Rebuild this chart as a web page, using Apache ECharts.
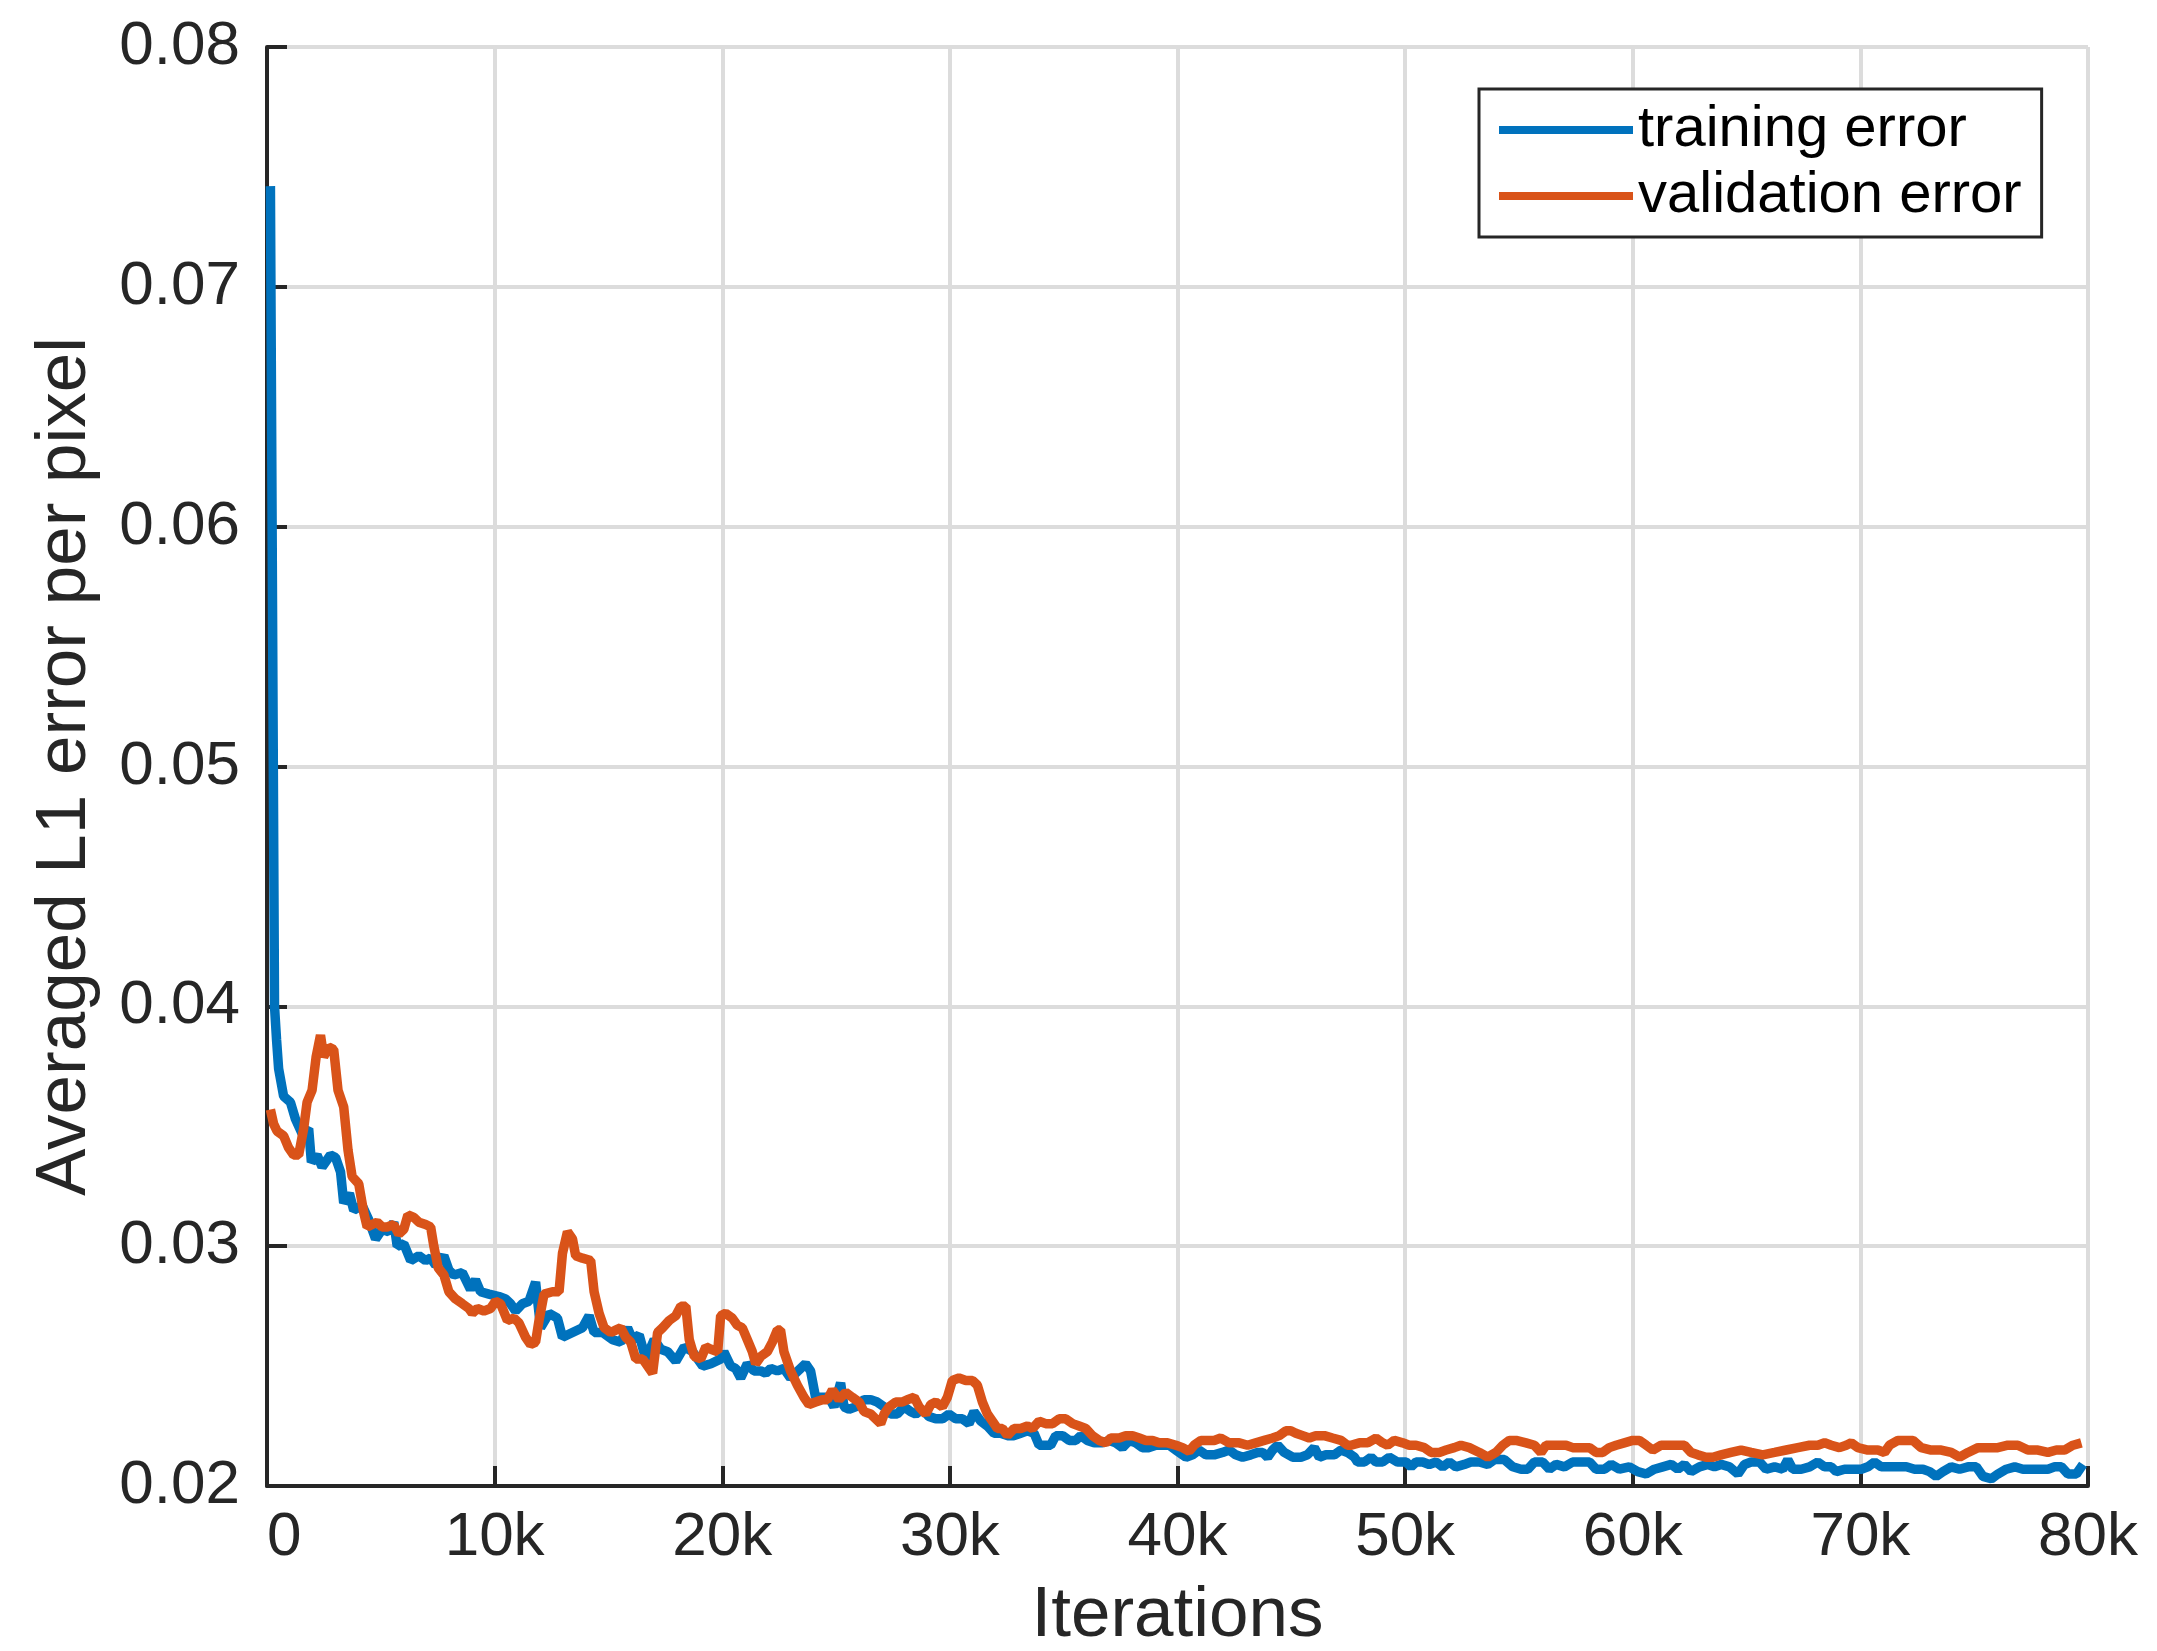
<!DOCTYPE html>
<html>
<head>
<meta charset="utf-8">
<title>Averaged L1 error per pixel</title>
<script src="https://cdn.jsdelivr.net/npm/echarts@6.0.0/dist/echarts.min.js"></script>
<style>
    html, body {
        margin: 0;
        padding: 0;
        background: #fff;
    }

    #chart {
        width: 2157px;
        height: 1651px;
    }
</style>
</head>
<body>
<div id="chart"></div>
<script>
    // tick labels
    const xTickLabels = ['0', '10k', '20k', '30k', '40k', '50k', '60k', '70k', '80k']
    const yTickLabels = ['0.02', '0.03', '0.04', '0.05', '0.06', '0.07', '0.08']

    // [iteration, error]
    const trainingError = [
        [150, 0.0742], [330, 0.0400], [420, 0.0386], [510, 0.0374], [730, 0.03625], [1030, 0.0360],
        [1250, 0.0353], [1540, 0.0347], [1830, 0.0349], [1950, 0.0335], [2200, 0.0338], [2420, 0.0333],
        [2790, 0.0338], [3010, 0.0337], [3230, 0.0331], [3370, 0.0318], [3620, 0.0322], [3810, 0.0315],
        [4180, 0.0317], [4470, 0.0311], [4770, 0.0303], [5060, 0.0307], [5350, 0.0306], [5570, 0.0310],
        [5720, 0.0300], [6010, 0.0301], [6310, 0.0294], [6670, 0.0296], [6970, 0.0294], [7190, 0.0295],
        [7410, 0.0292], [7770, 0.0296], [7990, 0.0290], [8210, 0.0288], [8580, 0.0289], [8940, 0.0282],
        [9160, 0.0286], [9380, 0.0281], [9750, 0.0280], [10190, 0.0279], [10480, 0.0278], [10700, 0.0276],
        [10920, 0.0273], [11220, 0.0276], [11510, 0.0277], [11800, 0.0285], [12020, 0.0266], [12390, 0.0272],
        [12760, 0.0270], [12980, 0.0262], [13420, 0.0264], [13860, 0.0266], [14150, 0.0271], [14370, 0.0264],
        [14740, 0.0264], [15180, 0.0261], [15540, 0.0260], [15840, 0.0266], [16060, 0.0261], [16350, 0.0263],
        [16640, 0.0253], [17010, 0.0261], [17300, 0.0257], [17600, 0.0256], [17960, 0.0252], [18330, 0.0258],
        [18700, 0.0256], [19140, 0.0250], [19500, 0.0251], [19940, 0.0253],
        [20070, 0.0256], [20370, 0.0250], [20590, 0.0249], [20810, 0.0245], [21100, 0.0251], [21390, 0.0248],
        [21690, 0.0248], [21910, 0.0247], [22130, 0.0249], [22420, 0.0248], [22710, 0.0249], [23000, 0.0245],
        [23220, 0.0247], [23440, 0.0249], [23660, 0.0251], [23880, 0.0248], [24100, 0.0237], [24400, 0.0237],
        [24690, 0.0237], [24910, 0.0233], [25200, 0.0243], [25350, 0.0233], [25570, 0.0232], [25860, 0.0233],
        [26230, 0.0236], [26520, 0.0236], [26810, 0.0235], [27110, 0.0233], [27400, 0.0230], [27690, 0.0230],
        [27990, 0.0233], [28280, 0.0231], [28500, 0.0230], [28790, 0.0232], [29080, 0.0229], [29380, 0.0228],
        [29670, 0.0228], [29960, 0.0230], [30260, 0.0228], [30550, 0.0228], [30840, 0.0226], [31060, 0.0231],
        [31360, 0.0227], [31650, 0.0225], [31940, 0.0222], [32230, 0.0222], [32530, 0.0221], [32820, 0.0221],
        [33110, 0.0222], [33410, 0.0223], [33700, 0.0222], [33920, 0.0217], [34210, 0.0217], [34430, 0.0217],
        [34650, 0.0221], [34950, 0.0221], [35240, 0.0219], [35530, 0.0219], [35750, 0.0221], [36040, 0.0219],
        [36340, 0.0218], [36700, 0.0218], [37000, 0.0219], [37290, 0.0218], [37580, 0.0216], [37880, 0.0219],
        [38170, 0.0218], [38460, 0.0216], [38750, 0.0216], [39050, 0.0217], [39340, 0.0217], [39630, 0.0217],
        [39930, 0.0215],
        [40370, 0.0212], [40660, 0.0213], [40950, 0.0215], [41250, 0.0213], [41610, 0.0213], [41980, 0.0214],
        [42270, 0.0215], [42560, 0.0213], [42860, 0.0212], [43220, 0.0213], [43520, 0.0214], [43740, 0.0214],
        [43960, 0.0212], [44180, 0.0215], [44400, 0.0217], [44690, 0.0214], [45060, 0.0212], [45420, 0.0212],
        [45710, 0.0213], [46010, 0.0216], [46230, 0.0212], [46520, 0.0213], [46890, 0.0213], [47180, 0.0215],
        [47470, 0.0214], [47770, 0.0212], [47910, 0.0210], [48210, 0.0210], [48500, 0.0212], [48720, 0.0210],
        [49010, 0.0210], [49300, 0.0212], [49670, 0.0210], [50040, 0.0210], [50260, 0.0208], [50480, 0.0210],
        [50770, 0.0210], [51060, 0.0209], [51360, 0.0210], [51650, 0.0208], [51940, 0.0210], [52230, 0.0208],
        [52600, 0.0209], [52890, 0.0210], [53260, 0.0210], [53630, 0.0209], [53920, 0.0211], [54360, 0.0211],
        [54730, 0.0208], [55090, 0.0207], [55390, 0.0207], [55680, 0.0210], [56040, 0.0210], [56340, 0.0207],
        [56630, 0.0209], [57000, 0.0208], [57360, 0.0210], [57730, 0.0210], [58100, 0.0210], [58390, 0.0207],
        [58760, 0.0207], [59050, 0.0209], [59410, 0.0207], [59850, 0.0208], [60220, 0.0206],
        [60590, 0.0205], [60950, 0.0207], [61320, 0.0208], [61690, 0.0209], [61980, 0.0207], [62270, 0.0209],
        [62560, 0.0206], [62930, 0.0208], [63300, 0.0209], [63590, 0.0208], [63880, 0.0209], [64250, 0.0208],
        [64620, 0.0205], [64910, 0.0209], [65200, 0.0210], [65570, 0.0210], [65860, 0.0207], [66230, 0.0208],
        [66590, 0.0207], [66810, 0.0211], [67030, 0.0207], [67400, 0.0207], [67770, 0.0208], [68130, 0.0210],
        [68430, 0.0208], [68720, 0.0208], [68940, 0.0206], [69300, 0.0207], [69670, 0.0207], [70040, 0.0207],
        [70330, 0.0208], [70620, 0.0210], [70920, 0.0208], [71280, 0.0208], [71650, 0.0208], [72020, 0.0208],
        [72380, 0.0207], [72750, 0.0207], [73040, 0.0206], [73330, 0.0204], [73630, 0.0206], [73990, 0.0208],
        [74360, 0.0207], [74730, 0.0208], [75090, 0.0208], [75390, 0.0204], [75750, 0.0203], [76040, 0.0205],
        [76410, 0.0207], [76780, 0.0208], [77140, 0.0207], [77510, 0.0207], [77880, 0.0207], [78240, 0.0207],
        [78540, 0.0208], [78830, 0.0208], [79120, 0.0205], [79490, 0.0205], [79780, 0.0209]
    ]

    const validationError = [
        [150, 0.0357], [290, 0.0351], [440, 0.0348], [730, 0.0346], [950, 0.0341], [1170, 0.0338],
        [1390, 0.0338], [1610, 0.0349], [1760, 0.0360], [1980, 0.0365], [2160, 0.0379], [2350, 0.0388],
        [2490, 0.0379], [2710, 0.0383], [2930, 0.0382], [3120, 0.0365], [3370, 0.0358], [3560, 0.0340],
        [3740, 0.0329], [4030, 0.0326], [4250, 0.0314], [4400, 0.0308], [4620, 0.0309], [4840, 0.0310],
        [5060, 0.0308], [5280, 0.0308], [5570, 0.0309], [5790, 0.0305], [6010, 0.0307], [6190, 0.0313],
        [6450, 0.0312], [6670, 0.0310], [6970, 0.0309], [7190, 0.0308], [7330, 0.0300], [7520, 0.0291],
        [7770, 0.0288], [7990, 0.0281], [8280, 0.0278], [8580, 0.0276], [8870, 0.0274], [9020, 0.0272],
        [9240, 0.0274], [9530, 0.0273], [9820, 0.0274], [10040, 0.0277], [10260, 0.0276], [10560, 0.0269],
        [10850, 0.0270], [11070, 0.0268], [11360, 0.0262], [11580, 0.0259], [11800, 0.0260], [11950, 0.0269],
        [12170, 0.0280], [12540, 0.0281], [12830, 0.0281], [12980, 0.0297], [13200, 0.0306], [13420, 0.0303],
        [13560, 0.0296], [13860, 0.0295], [14220, 0.0294], [14370, 0.0281], [14590, 0.0272], [14810, 0.0266],
        [15100, 0.0264], [15320, 0.0265], [15540, 0.0266], [15760, 0.0262], [15980, 0.0260], [16200, 0.0253],
        [16500, 0.0253], [16720, 0.0250], [16940, 0.0247], [17160, 0.0264], [17380, 0.0266], [17670, 0.0269],
        [17960, 0.0271], [18180, 0.0275], [18400, 0.0275], [18550, 0.0261], [18770, 0.0254], [19060, 0.0253],
        [19280, 0.0258], [19500, 0.0257], [19800, 0.0256], [19930, 0.0271],
        [20150, 0.0272], [20440, 0.0270], [20660, 0.0267], [20880, 0.0266], [21100, 0.0261], [21320, 0.0256],
        [21470, 0.0251], [21690, 0.0254], [21980, 0.0256], [22200, 0.0260], [22420, 0.0265], [22560, 0.0265],
        [22710, 0.0256], [23000, 0.0248], [23300, 0.0242], [23590, 0.0237], [23810, 0.0234], [24100, 0.0235],
        [24400, 0.0236], [24620, 0.0236], [24840, 0.0240], [25130, 0.0236], [25420, 0.0239], [25710, 0.0237],
        [26010, 0.0235], [26230, 0.0231], [26520, 0.0230], [26740, 0.0228], [26960, 0.0226], [27110, 0.0230],
        [27330, 0.0233], [27620, 0.0235], [27910, 0.0235], [28130, 0.0236], [28430, 0.0237], [28650, 0.0233],
        [28940, 0.0230], [29160, 0.0234], [29380, 0.0235], [29670, 0.0233], [29890, 0.0237], [30110, 0.0244],
        [30400, 0.0245], [30700, 0.0244], [30990, 0.0244], [31210, 0.0242], [31430, 0.0235], [31650, 0.0230],
        [31870, 0.0227], [32090, 0.0224], [32310, 0.0224], [32530, 0.0221], [32820, 0.0224], [33110, 0.0224],
        [33410, 0.0225], [33630, 0.0224], [33920, 0.0227], [34210, 0.0226], [34510, 0.0226], [34800, 0.0228],
        [35090, 0.0228], [35390, 0.0226], [35680, 0.0225], [35970, 0.0224], [36260, 0.0221], [36560, 0.0219],
        [36850, 0.0218], [37070, 0.0220], [37440, 0.0220], [37730, 0.0221], [38020, 0.0221], [38320, 0.0220],
        [38610, 0.0219], [38900, 0.0219], [39190, 0.0218], [39560, 0.0218], [39930, 0.0217],
        [40220, 0.0216], [40510, 0.02145], [40730, 0.0217], [41030, 0.0219], [41320, 0.0219], [41610, 0.0219],
        [41900, 0.0220], [42270, 0.0218], [42710, 0.0218], [43080, 0.0217], [43440, 0.0218], [43810, 0.0219],
        [44180, 0.0220], [44470, 0.0221], [44760, 0.0223], [44980, 0.0223], [45200, 0.0222], [45500, 0.0221],
        [45790, 0.0220], [46080, 0.0221], [46450, 0.0221], [46810, 0.0220], [47180, 0.0219], [47470, 0.0217],
        [47620, 0.0217], [47990, 0.0218], [48350, 0.0218], [48720, 0.0220], [49010, 0.0218], [49230, 0.0217],
        [49520, 0.0219], [49890, 0.0218], [50180, 0.0217], [50480, 0.0217], [50840, 0.0216], [51140, 0.0214],
        [51500, 0.0214], [51800, 0.0215], [52160, 0.0216], [52450, 0.0217], [52820, 0.0216], [53260, 0.0214],
        [53630, 0.0212], [53990, 0.0214], [54290, 0.0217], [54580, 0.0219], [54870, 0.0219], [55310, 0.0218],
        [55680, 0.0217], [55970, 0.0214], [56190, 0.0217], [56630, 0.0217], [57070, 0.0217], [57360, 0.0216],
        [57660, 0.0216], [58100, 0.0216], [58390, 0.0214], [58680, 0.0214], [58970, 0.0216], [59270, 0.0217],
        [59630, 0.0218], [60000, 0.0219],
        [60290, 0.0219], [60590, 0.0217], [60880, 0.0215], [61250, 0.0217], [61610, 0.0217], [61980, 0.0217],
        [62270, 0.0217], [62560, 0.0214], [62860, 0.0213], [63220, 0.0212], [63520, 0.0212], [63880, 0.0213],
        [64320, 0.0214], [64760, 0.0215], [65200, 0.0214], [65710, 0.0213], [66230, 0.0214], [66740, 0.0215],
        [67250, 0.0216], [67770, 0.0217], [68130, 0.0217], [68430, 0.0218], [68720, 0.0217], [69080, 0.0216],
        [69380, 0.0217], [69600, 0.0218], [69890, 0.0216], [70330, 0.0215], [70770, 0.0215], [71060, 0.0214],
        [71280, 0.0217], [71650, 0.0219], [72020, 0.0219], [72310, 0.0219], [72670, 0.0216], [73110, 0.0215],
        [73550, 0.0215], [73990, 0.0214], [74360, 0.0212], [74730, 0.0214], [75170, 0.0216], [75600, 0.0216],
        [76040, 0.0216], [76480, 0.0217], [76920, 0.0217], [77360, 0.0215], [77800, 0.0215], [78240, 0.0214],
        [78610, 0.0215], [78970, 0.0215], [79340, 0.0217], [79710, 0.0218]
    ]

    const font = 'Liberation Sans, Arial, Helvetica, sans-serif'
    const ink = '#262626'
    const lineWidth = 9.5

    const chart = echarts.init(document.getElementById('chart'), null, {renderer: 'canvas'})

    const option = {
        animation: false,
        backgroundColor: '#fff',
        grid: {
            left: 267,
            right: 69,
            top: 47,
            bottom: 165,
            containLabel: false,
            outerBoundsMode: 'none'
        },
        legend: {
            orient: 'vertical',
            left: 1479,
            top: 89,
            padding: [12, 20, 12, 20],
            itemWidth: 134,
            itemHeight: 8,
            itemGap: 8,
            icon: 'rect',
            backgroundColor: '#fff',
            borderColor: ink,
            borderWidth: 3,
            borderRadius: 0,
            textStyle: {
                fontFamily: font,
                fontSize: 58,
                color: '#000'
            },
            data: ['training error', 'validation error']
        },
        xAxis: {
            type: 'value',
            min: 0,
            max: 80000,
            interval: 10000,
            name: 'Iterations',
            nameLocation: 'middle',
            nameGap: 95,
            nameTextStyle: {
                fontFamily: font,
                fontSize: 71,
                color: ink
            },
            axisLine: {
                show: true,
                onZero: false,
                lineStyle: {color: ink, width: 4}
            },
            axisTick: {
                show: true,
                inside: true,
                length: 20,
                lineStyle: {color: ink, width: 4}
            },
            axisLabel: {
                fontFamily: font,
                fontSize: 62,
                color: ink,
                margin: 21,
                alignMinLabel: 'left',
                formatter: v => xTickLabels[Math.round(v / 10000)]
            },
            splitLine: {
                show: true,
                lineStyle: {color: '#dcdcdc', width: 4}
            }
        },
        yAxis: {
            type: 'value',
            min: 0.02,
            max: 0.08,
            interval: 0.01,
            name: 'Averaged L1 error per pixel',
            nameLocation: 'middle',
            nameGap: 166,
            nameTextStyle: {
                fontFamily: font,
                fontSize: 71,
                color: ink
            },
            axisLine: {
                show: true,
                onZero: false,
                lineStyle: {color: ink, width: 4}
            },
            axisTick: {
                show: true,
                inside: true,
                length: 20,
                lineStyle: {color: ink, width: 4}
            },
            axisLabel: {
                fontFamily: font,
                fontSize: 62,
                color: ink,
                margin: 27,
                formatter: v => yTickLabels[Math.round((v - 0.02) / 0.01)]
            },
            splitLine: {
                show: true,
                lineStyle: {color: '#dcdcdc', width: 4}
            }
        },
        series: [
            {
                name: 'training error',
                type: 'line',
                data: trainingError,
                showSymbol: false,
                symbol: 'none',
                itemStyle: {color: '#0072BD'},
                lineStyle: {color: '#0072BD', width: lineWidth},
                emphasis: {disabled: true},
                z: 2
            },
            {
                name: 'validation error',
                type: 'line',
                data: validationError,
                showSymbol: false,
                symbol: 'none',
                itemStyle: {color: '#D95319'},
                lineStyle: {color: '#D95319', width: lineWidth},
                emphasis: {disabled: true},
                z: 3
            }
        ]
    }

    chart.setOption(option)
</script>
</body>
</html>
